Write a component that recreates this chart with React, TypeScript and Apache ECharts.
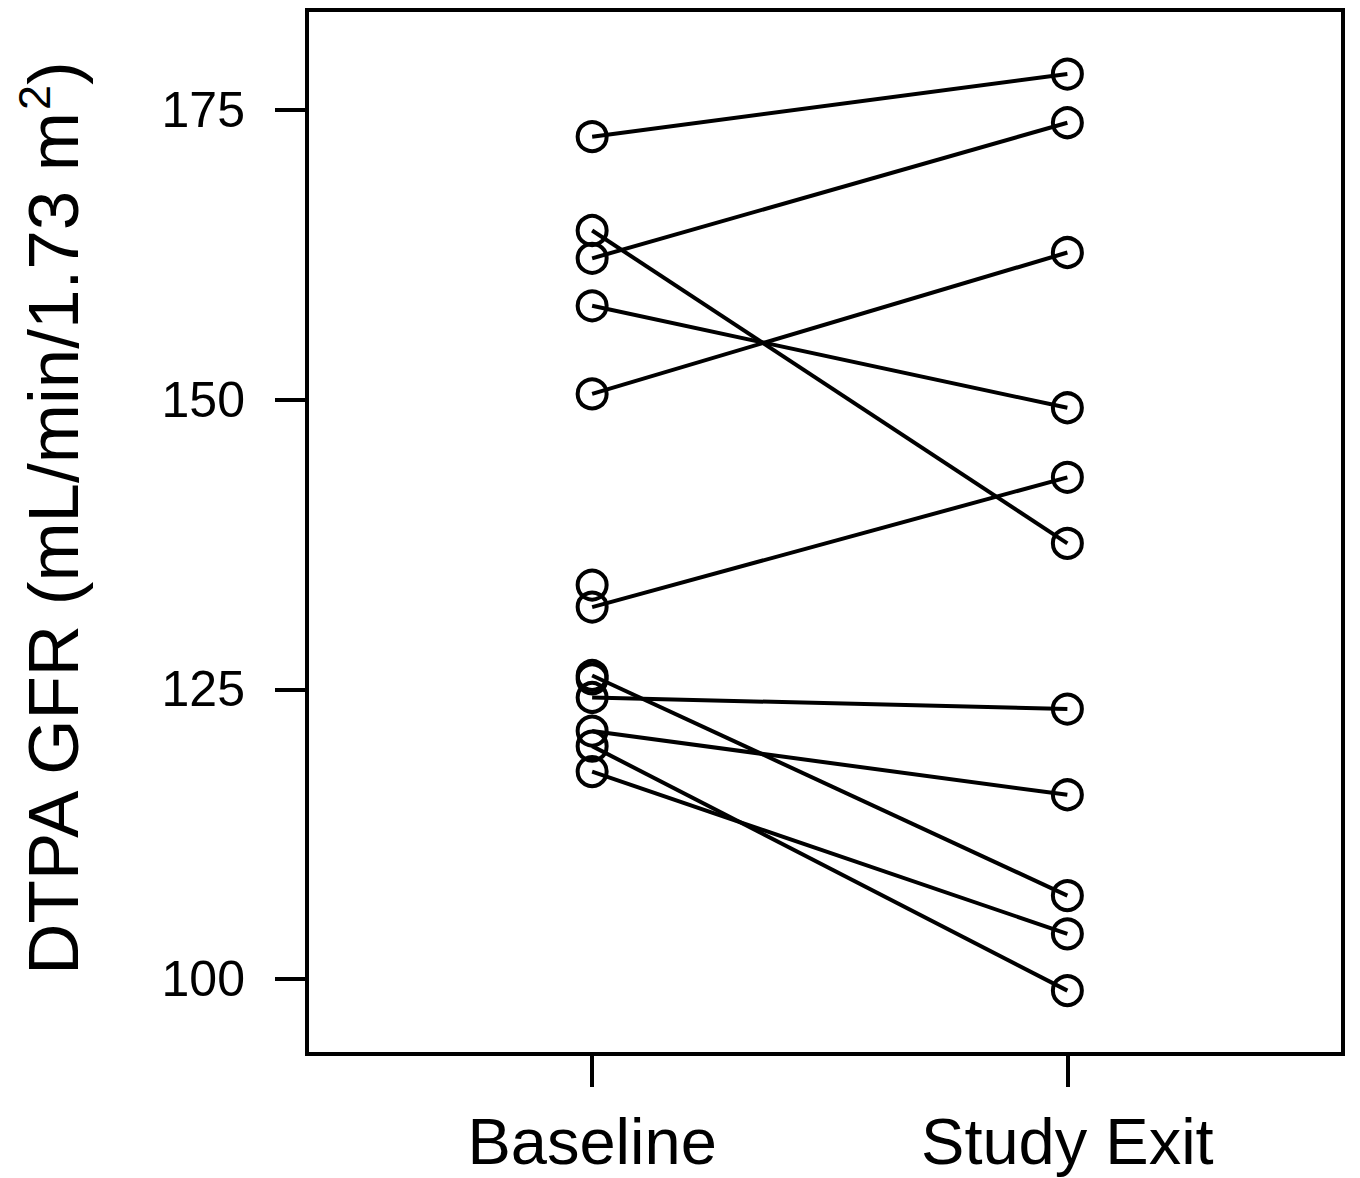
import React, { useEffect, useRef } from "react";
import * as echarts from "echarts";

const categories = ["Baseline", "Study Exit"];
// paired subjects: baseline value -> study exit value
const baselinePaired = [172.7, 162.2, 164.6, 158.1, 150.5, 132.1, 126.2, 124.3, 121.4, 120.1, 117.9];
const exitPaired = [178.1, 173.9, 137.6, 149.3, 162.7, 143.3, 107.2, 123.3, 115.9, 99.0, 103.9];
// baseline-only subjects
const baselineUnpaired = [134.0, 125.9];
const yTicks = [100, 125, 150, 175];
const yTitle = "DTPA GFR (mL/min/1.73 m";

export default function App() {
  const ref = useRef<HTMLDivElement>(null);
  useEffect(() => {
    if (!ref.current) return;
    const chart = echarts.init(ref.current, null, { renderer: "svg" });
    const font = "'Liberation Sans', Arial, Helvetica, sans-serif";
    const lineSeries = baselinePaired.map((b, i) => ({
      type: "line",
      data: [
        [1, b],
        [2, exitPaired[i]],
      ],
      showSymbol: false,
      symbol: "none",
      lineStyle: { color: "#000", width: 4, opacity: 1 },
      z: 2,
    }));
    const points: number[][] = [];
    baselinePaired.forEach((b) => points.push([1, b]));
    baselineUnpaired.forEach((b) => points.push([1, b]));
    exitPaired.forEach((e) => points.push([2, e]));
    chart.setOption({
      animation: false,
      grid: {
        left: 307,
        right: 17,
        top: 10,
        bottom: 124,
        show: true,
        borderColor: "#000",
        borderWidth: 4,
        backgroundColor: "transparent",
      },
      xAxis: {
        type: "value",
        min: 0.4,
        max: 2.58,
        splitLine: { show: false },
        axisLine: { show: false },
        axisTick: {
          show: true,
          length: 33,
          customValues: [1, 2],
          lineStyle: { color: "#000", width: 4 },
        },
        axisLabel: {
          customValues: [1, 2],
          formatter: (v: number) => categories[Math.round(v) - 1],
          margin: 55,
          fontSize: 65,
          fontFamily: font,
          color: "#000",
        },
      },
      yAxis: {
        type: "value",
        min: 93.53,
        max: 183.63,
        splitLine: { show: false },
        axisLine: { show: false },
        axisTick: {
          show: true,
          length: 32,
          customValues: yTicks,
          lineStyle: { color: "#000", width: 4 },
        },
        axisLabel: {
          customValues: yTicks,
          margin: 62,
          fontSize: 50,
          fontFamily: font,
          color: "#000",
        },
      },
      graphic: [
        {
          type: "text",
          x: 53,
          y: 519,
          rotation: Math.PI / 2,
          style: {
            text: "{a|" + yTitle + "}{b|2}{a|)}",
            align: "center",
            verticalAlign: "middle",
            rich: {
              a: { fontSize: 71, fontFamily: font, fill: "#000", lineHeight: 82 },
              b: { fontSize: 45, fontFamily: font, fill: "#000", verticalAlign: "top", lineHeight: 45 },
            },
          },
        },
      ],
      series: [
        ...lineSeries,
        {
          type: "scatter",
          data: points,
          symbol: "circle",
          symbolSize: 29,
          itemStyle: { color: "transparent", borderColor: "#000", borderWidth: 4, opacity: 1 },
          z: 3,
        },
      ],
    });
    return () => chart.dispose();
  }, []);
  return (
    <div
      ref={ref}
      style={{ position: "absolute", left: 0, top: 0, width: 1360, height: 1178 }}
    />
  );
}
